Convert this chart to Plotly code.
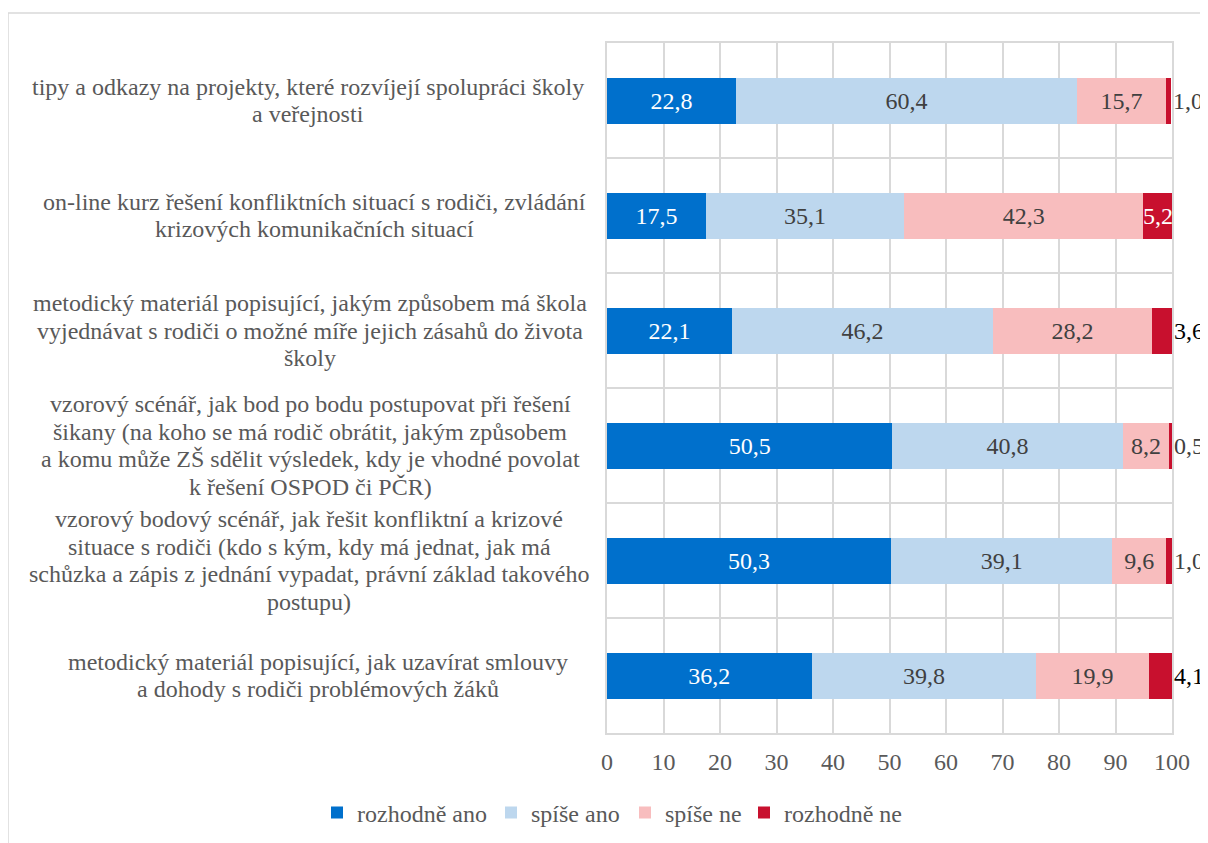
import plotly.graph_objects as go

categories = [
    "tipy a odkazy na projekty, které rozvíjejí spolupráci školy<br>a veřejnosti",
    "on-line kurz řešení konfliktních situací s rodiči, zvládání<br>krizových komunikačních situací",
    "metodický materiál popisující, jakým způsobem má škola<br>vyjednávat s rodiči o možné míře jejich zásahů do života<br>školy",
    "vzorový scénář, jak bod po bodu postupovat při řešení<br>šikany (na koho se má rodič obrátit, jakým způsobem<br>a komu může ZŠ sdělit výsledek, kdy je vhodné povolat<br>k řešení OSPOD či PČR)",
    "vzorový bodový scénář, jak řešit konfliktní a krizové<br>situace s rodiči (kdo s kým, kdy má jednat, jak má<br>schůzka a zápis z jednání vypadat, právní základ takového<br>postupu)",
    "metodický materiál popisující, jak uzavírat smlouvy<br>a dohody s rodiči problémových žáků",
]
series_names = ["rozhodně ano", "spíše ano", "spíše ne", "rozhodně ne"]
rozhodne_ano = [22.8, 17.5, 22.1, 50.5, 50.3, 36.2]
spise_ano = [60.4, 35.1, 46.2, 40.8, 39.1, 39.8]
spise_ne = [15.7, 42.3, 28.2, 8.2, 9.6, 19.9]
rozhodne_ne = [1.0, 5.2, 3.6, 0.5, 1.0, 4.1]
x_ticks = [0, 10, 20, 30, 40, 50, 60, 70, 80, 90, 100]

OFF = 8  # page body margin
W, H = 1208 - OFF, 843 - OFF
L, T = 607 - OFF, 43 - OFF
PW, PH = 1172 - 607, 733 - 43
R, B = W - L - PW, H - T - PH
FONT = "Liberation Serif, Times New Roman, Tinos, serif"
GRAY = "#595959"
GRID = "#D9D9D9"

def fmt(v):
    return f"{v:.1f}".replace(".", ",")

series = [rozhodne_ano, spise_ano, spise_ne, rozhodne_ne]
colors = ["#0070CC", "#BDD7EE", "#F8BDBE", "#C8102E"]
legend_ids = ["legend", "legend2", "legend3", "legend4"]
legend_px = [317, 491, 625, 744]  # left edge of each legend entry (page pixels)

fig = go.Figure()
for i, (name, vals, col) in enumerate(zip(series_names, series, colors)):
    texts = [fmt(v) for v in vals] if i < 3 else None
    fig.add_trace(go.Bar(
        y=categories, x=vals, name=name, orientation="h",
        marker=dict(color=col, line=dict(width=0)),
        width=0.4, legend=legend_ids[i],
        text=texts, textposition="inside" if i < 3 else "none",
        insidetextanchor="middle", textangle=0, constraintext="none",
        textfont=dict(family=FONT, size=24, color="white" if i == 0 else "#404040"),
        cliponaxis=False,
    ))

# labels of the "rozhodně ne" segments (inside if wide enough, else just after the bar end)
for cat, a, b, c, d in zip(categories, rozhodne_ano, spise_ano, spise_ne, rozhodne_ne):
    total = a + b + c + d
    if d >= 5:
        fig.add_annotation(x=a + b + c + d / 2, y=cat, xref="x", yref="y",
                           text=fmt(d), showarrow=False,
                           font=dict(family=FONT, size=24, color="white"))
    else:
        fig.add_annotation(x=min(total, 100), y=cat, xref="x", yref="y",
                           text=fmt(d), showarrow=False, xanchor="left", xshift=0,
                           font=dict(family=FONT, size=24,
                                     color="#000000" if d >= 3 else "#404040"))

# category labels (centered lines, Excel-like spacing)
centers_px = [308, 314, 310, 310, 309, 318]
line_h = 27.5
for cat, cx in zip(categories, centers_px):
    lines = cat.split("<br>")
    n = len(lines)
    for j, ln in enumerate(lines):
        fig.add_annotation(
            x=(cx - 607) / PW, xref="paper", y=cat, yref="y",
            text=ln, showarrow=False, xanchor="center", yanchor="middle",
            yshift=-(j - (n - 1) / 2) * line_h,
            font=dict(family=FONT, size=24, color=GRAY),
        )

# outer chart border
fig.add_shape(type="rect", xref="paper", yref="paper",
              x0=(8 - 607) / PW, x1=(1230 - 607) / PW,
              y0=-(870 - 733) / PH, y1=(733 - 13) / PH,
              line=dict(color=GRID, width=1.5), fillcolor="rgba(0,0,0,0)", layer="below")

legend_common = dict(orientation="h", xref="paper", xanchor="left",
                     yref="paper", y=-(813 - 733) / PH, yanchor="middle",
                     font=dict(family=FONT, size=24, color=GRAY),
                     itemwidth=30, itemclick=False, itemdoubleclick=False,
                     bgcolor="rgba(0,0,0,0)")
legends = {lid: dict(legend_common, x=(px - 607) / PW) for lid, px in zip(legend_ids, legend_px)}

fig.update_layout(
    width=W, height=H, barmode="stack",
    margin=dict(l=L, r=R, t=T, b=B, autoexpand=False),
    paper_bgcolor="white", plot_bgcolor="white",
    font=dict(family=FONT, size=24, color=GRAY),
    showlegend=True,
    xaxis=dict(range=[0, 100], tickvals=x_ticks, showgrid=True, gridcolor=GRID, gridwidth=1.5,
               zeroline=False, showline=True, mirror=True, linecolor=GRID, linewidth=1.5,
               ticks="", tickfont=dict(family=FONT, size=24, color=GRAY), ticklabelstandoff=6),
    yaxis=dict(categoryorder="array", categoryarray=categories, autorange="reversed",
               showticklabels=False, tickson="boundaries", ticks="", showgrid=True,
               gridcolor=GRID, gridwidth=1.5, showline=True, mirror=True,
               linecolor=GRID, linewidth=1.5, zeroline=False),
    **legends,
)

fig.write_html("out.html")
